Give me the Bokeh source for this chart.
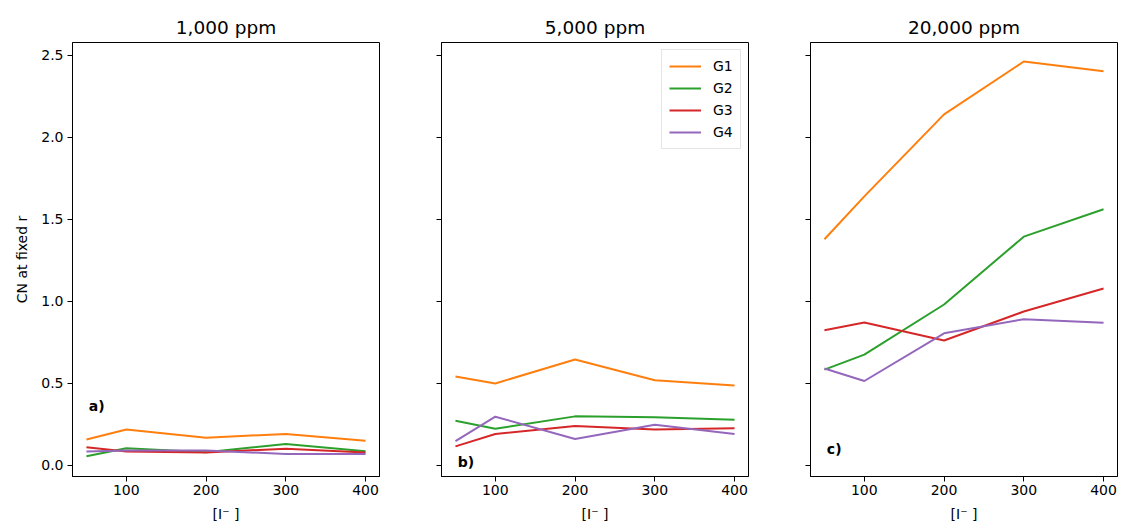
from bokeh.plotting import figure
from bokeh.layouts import row
from bokeh.models import FixedTicker, Range1d, Label, Legend, LegendItem
from bokeh.embed import file_html
from bokeh.resources import INLINE

# Iodide concentration [I-] and coordination numbers per group
conc = [50, 100, 200, 300, 400]
groups = ["G1", "G2", "G3", "G4"]
colors = ["#ff7f0e", "#2ca02c", "#d62728", "#9467bd"]

titles = ["1,000 ppm", "5,000 ppm", "20,000 ppm"]
tags = ["a)", "b)", "c)"]
tag_y = [0.36, 0.02, 0.10]

cn_1000 = {
    "G1": [0.156, 0.217, 0.166, 0.190, 0.148],
    "G2": [0.053, 0.102, 0.078, 0.129, 0.084],
    "G3": [0.109, 0.082, 0.076, 0.100, 0.076],
    "G4": [0.082, 0.088, 0.088, 0.068, 0.068],
}
cn_5000 = {
    "G1": [0.541, 0.498, 0.644, 0.518, 0.486],
    "G2": [0.270, 0.222, 0.297, 0.291, 0.276],
    "G3": [0.114, 0.189, 0.238, 0.217, 0.224],
    "G4": [0.146, 0.295, 0.159, 0.246, 0.189],
}
cn_20000 = {
    "G1": [1.378, 1.640, 2.140, 2.463, 2.404],
    "G2": [0.582, 0.674, 0.980, 1.394, 1.561],
    "G3": [0.823, 0.870, 0.760, 0.937, 1.077],
    "G4": [0.589, 0.513, 0.804, 0.890, 0.868],
}
panels = [cn_1000, cn_5000, cn_20000]

x_ticks = [100, 200, 300, 400]
y_ticks = [0.0, 0.5, 1.0, 1.5, 2.0, 2.5]

FONT = "DejaVu Sans"
FRAME_W, FRAME_H = 307, 434
borders = [(72, 31), (31, 31), (31, 6)]

figs = []
for i, data in enumerate(panels):
    left, right = borders[i]
    p = figure(frame_width=FRAME_W, frame_height=FRAME_H,
               output_backend="svg", toolbar_location=None,
               x_range=Range1d(32.5, 417.5), y_range=Range1d(-0.070, 2.579),
               min_border_left=left, min_border_right=right,
               min_border_top=42, min_border_bottom=4,
               title=titles[i])
    p.title.align = "center"
    p.title.text_font = FONT
    p.title.text_font_size = "18.5px"
    p.title.text_font_style = "normal"
    p.title.text_color = "black"
    p.title.offset = 0
    p.title.standoff = 10

    p.grid.visible = False
    p.outline_line_color = "black"
    p.outline_line_width = 1
    p.background_fill_color = "white"
    p.border_fill_color = "white"

    for ax in (p.xaxis, p.yaxis):
        ax.axis_line_color = "black"
        ax.major_tick_line_color = "black"
        ax.major_tick_out = 5
        ax.major_tick_in = 0
        ax.minor_tick_line_color = None
        ax.major_label_text_font = FONT
        ax.major_label_text_font_size = "14px"
        ax.major_label_text_color = "black"
        ax.axis_label_text_font = FONT
        ax.axis_label_text_font_size = "14px"
        ax.axis_label_text_font_style = "normal"
        ax.axis_label_text_color = "black"

    p.xaxis.ticker = FixedTicker(ticks=x_ticks)
    p.xaxis.major_label_standoff = 3
    p.xaxis.axis_label = "[I\u207b ]"
    p.xaxis.axis_label_standoff = 8

    p.yaxis.ticker = FixedTicker(ticks=y_ticks)
    if i == 0:
        p.yaxis.major_label_overrides = {t: f"{t:.1f}" for t in y_ticks}
        p.yaxis.axis_label = "CN at fixed r"
        p.yaxis.axis_label_standoff = 8
        p.yaxis.major_label_standoff = 4
    else:
        # shared y axis: ticks only, no labels
        p.yaxis.major_label_overrides = {t: "" for t in y_ticks}
        p.yaxis.major_label_standoff = 0

    renderers = []
    for g, c in zip(groups, colors):
        r = p.line(conc, data[g], line_color=c, line_width=2)
        renderers.append(r)

    p.add_layout(Label(x=53, y=tag_y[i], text=tags[i], text_font=FONT,
                       text_font_size="14px", text_font_style="bold",
                       text_baseline="middle", text_color="black"))

    if i == 1:
        legend = Legend(items=[LegendItem(label=g, renderers=[r])
                               for g, r in zip(groups, renderers)],
                        location="top_right")
        legend.label_text_font = FONT
        legend.label_text_font_size = "14px"
        legend.label_text_color = "black"
        legend.glyph_width = 32
        legend.glyph_height = 18
        legend.label_height = 18
        legend.spacing = 4
        legend.padding = 7
        legend.margin = 7
        legend.label_standoff = 12
        legend.border_line_color = "#cccccc"
        legend.border_line_width = 1
        legend.background_fill_alpha = 0.8
        p.add_layout(legend)

    figs.append(p)

layout = row(*figs, spacing=0)

with open("out.html", "w") as f:
    f.write(file_html(layout, INLINE))
